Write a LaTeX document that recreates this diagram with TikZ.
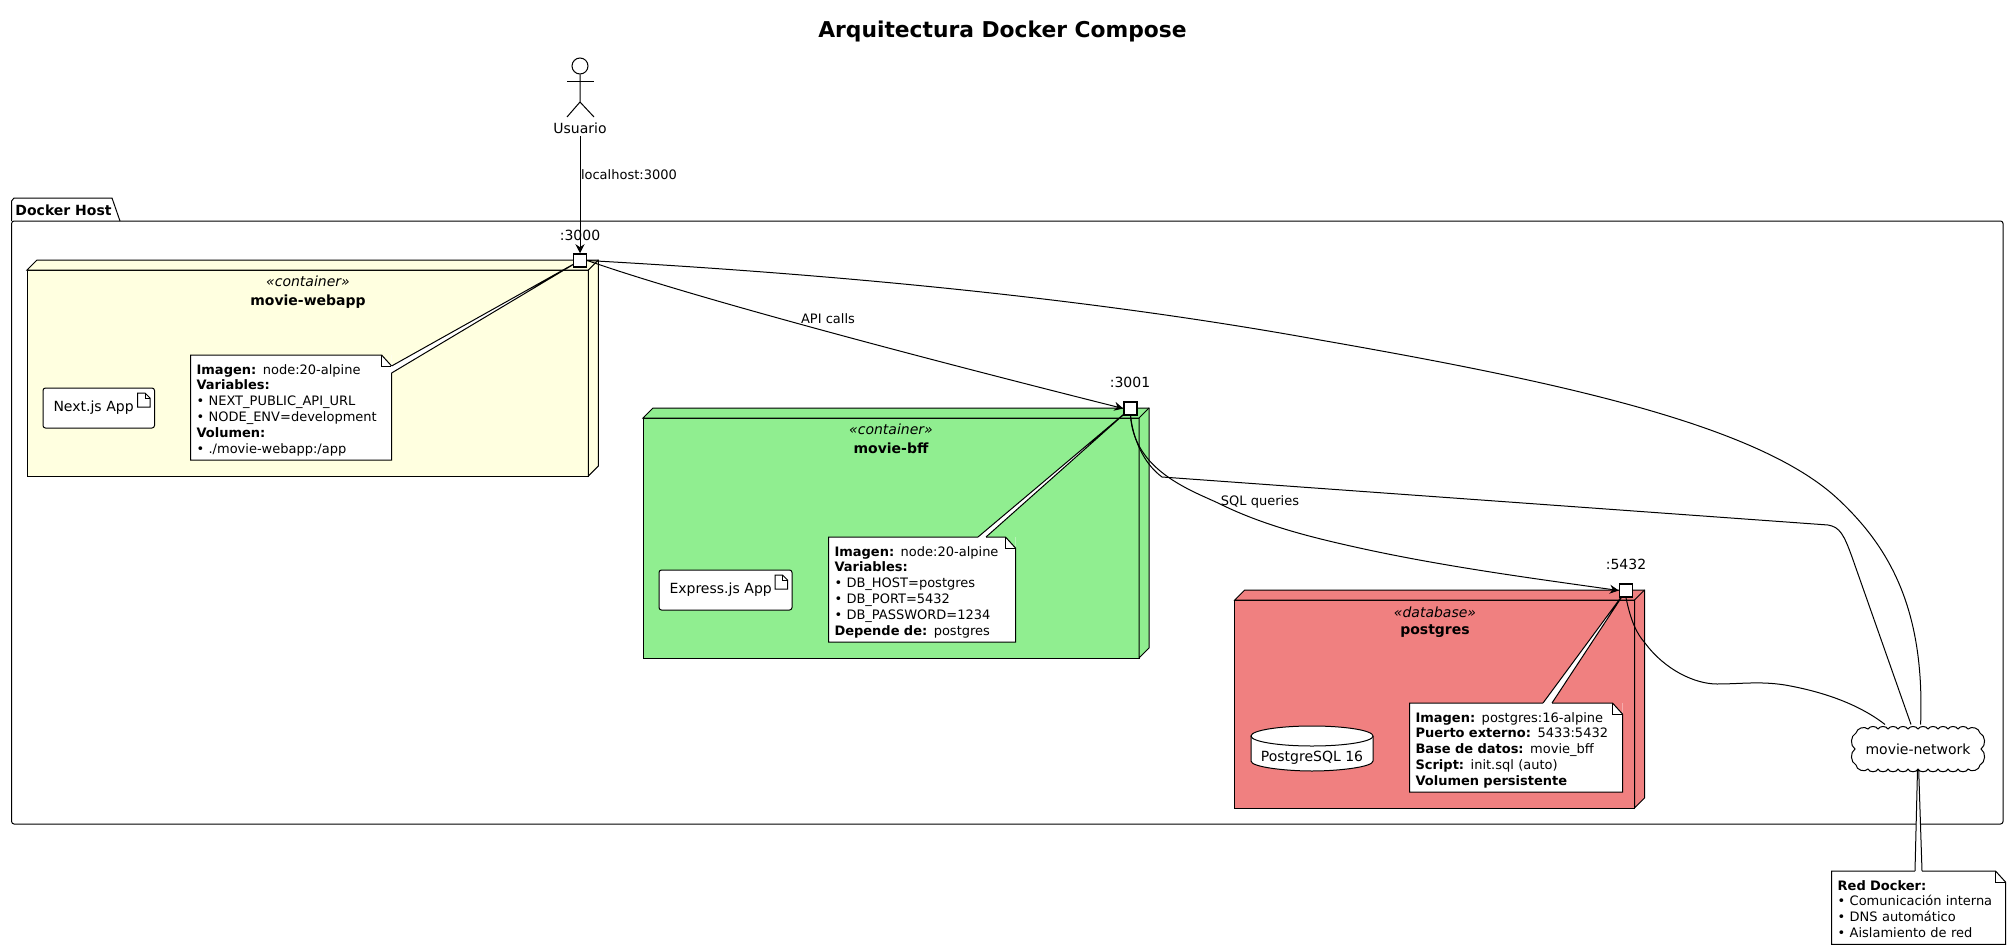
\documentclass[tikz,border=0pt]{standalone}
\usepackage{fontspec}
\setmainfont{DejaVu Sans}
\usetikzlibrary{positioning,calc,arrows.meta}

\definecolor{webappfill}{HTML}{FFFFE0}
\definecolor{bfffill}{HTML}{90EE90}
\definecolor{dbfill}{HTML}{F08080}

\newcommand{\nodedepth}[2]{
  \draw[fill=#2] (#1.north west) -- ++(10,-10) -- ($(#1.north east)+(10,-10)$) -- ($(#1.south east)+(10,-10)$) -- (#1.south east) -- (#1.north east) -- cycle;
  \draw (#1.north east) -- ++(10,-10);
}
\newcommand{\notefold}[2]{
  \fill[#2] ($(#1.north east)+(-10,0)$) -- (#1.north east) -- ($(#1.north east)+(0,11)$) -- cycle;
  \draw (#1.north west) -- ($(#1.north east)+(-10,0)$) -- ($(#1.north east)+(0,11)$) -- (#1.south east) -- (#1.south west) -- cycle;
  \draw ($(#1.north east)+(-10,0)$) -- ++(0,11) -- ++(10,0);
}
\newcommand{\notewedge}[3]{
  \fill[white] (#1) -- (#3) -- (#2) -- cycle;
  \draw[white, line width=1.4pt] (#1) -- (#2);
  \draw (#1) -- (#3) -- (#2);
}
\newcommand{\artifacticon}[1]{
  \draw[fill=white] ($(#1.north east)+(-17,5)$) -- ++(7.5,0) -- ++(5,5) -- ++(0,9) -- ++(-12.5,0) -- cycle;
  \draw ($(#1.north east)+(-9.5,5)$) -- ++(0,5) -- ++(5,0);
}
\newcommand{\notetop}{\rule{0pt}{19pt}}
\newcommand{\notebot}{\rule[-7pt]{0pt}{7pt}}

\begin{document}
\begin{tikzpicture}[x=1pt, y=-1pt, line width=1pt, >={Stealth[length=9pt,width=9pt,inset=3pt]}]
  \tikzstyle{title} = [font=\fontsize{21.8}{26}\selectfont\bfseries]
  \tikzstyle{plain} = [font=\fontsize{14}{16}\selectfont, inner sep=0]
  \tikzstyle{edgetext} = [font=\fontsize{13}{16}\selectfont, inner sep=0]
  \tikzstyle{stereo} = [font=\fontsize{14}{16}\selectfont\itshape, inner sep=0, anchor=base]
  \tikzstyle{boldname} = [font=\fontsize{14}{16}\selectfont\bfseries, inner sep=0, anchor=base]
  \tikzstyle{container} = [rectangle, draw, anchor=north west, inner sep=0, outer sep=0]
  \tikzstyle{artifact} = [rectangle, draw, fill=white, rounded corners=2.5pt, anchor=north west, inner xsep=10.5pt, inner ysep=0, outer sep=0, minimum height=40pt, align=left, font=\fontsize{14}{16}\selectfont]
  \tikzstyle{notebox} = [rectangle, fill=white, anchor=north west, inner xsep=6pt, inner ysep=0, outer sep=0, align=left, font=\fontsize{13}{15.8}\selectfont]
  \tikzstyle{portbox} = [rectangle, draw, fill=white, line width=1.5pt, minimum size=13pt, inner sep=0]

  \useasboundingbox (0,0) rectangle (2011,950);

  \node[title] (diagramtitle) at (1002.5,31) {Arquitectura Docker Compose};

  \draw (11.6,221) -- (11.6,201) -- (14,198) -- (112,198) -- (120,221);
  \draw[rounded corners=2.5pt] (11.6,221) rectangle (2003,824);
  \node[boldname, anchor=base west] (hostname) at (15,215) {Docker Host};

  \coordinate (port3000c) at (580,260.5);
  \coordinate (port3001c) at (1130.5,408.5);
  \coordinate (port5432c) at (1626,590.5);
  \coordinate (networkc) at (1918,749);

  \node[container, fill=webappfill, minimum width=561.4pt, minimum height=206pt] (webapp) at (27,270) {};
  \nodedepth{webapp}{webappfill}
  \node[stereo] (webapptag) at (308,286.5) {«container»};
  \node[boldname] (webappname) at (308,305) {movie-webapp};
  \node[artifact, text width=90.5pt] (nextapp) at (43,388) {Next.js App};
  \artifacticon{nextapp}
  \node[notebox, text width=189pt, minimum height=105pt] (webappnote) at (190.6,355) {\notetop\textbf{Imagen:} node:20-alpine\\\textbf{Variables:}\\• NEXT\_PUBLIC\_API\_URL\\• NODE\_ENV=development\\\textbf{Volumen:}\\• ./movie-webapp:/app\notebot};
  \notefold{webappnote}{webappfill}
  \coordinate (webappa) at ($(webappnote.north east)+(0,11)$);
  \coordinate (webappb) at ($(webappnote.north east)+(0,18)$);
  \notewedge{webappa}{webappb}{port3000c}

  \node[container, fill=bfffill, minimum width=496pt, minimum height=240pt] (bff) at (643,418) {};
  \nodedepth{bff}{bfffill}
  \node[stereo] (bfftag) at (891,434.5) {«container»};
  \node[boldname] (bffname) at (891,453) {movie-bff};
  \node[artifact, text width=112pt] (expressapp) at (659,570) {Express.js App};
  \artifacticon{expressapp}
  \node[notebox, text width=175pt, minimum height=105pt] (bffnote) at (828.5,537) {\notetop\textbf{Imagen:} node:20-alpine\\\textbf{Variables:}\\• DB\_HOST=postgres\\• DB\_PORT=5432\\• DB\_PASSWORD=1234\\\textbf{Depende de:} postgres\notebot};
  \notefold{bffnote}{bfffill}
  \coordinate (bffa) at ($(bffnote.north west)+(149.5,0)$);
  \coordinate (bffb) at ($(bffnote.north west)+(157.5,0)$);
  \notewedge{bffa}{bffb}{port3001c}

  \node[container, fill=dbfill, minimum width=399.8pt, minimum height=208pt] (postgres) at (1234.7,600) {};
  \nodedepth{postgres}{dbfill}
  \node[stereo] (postgrestag) at (1435,617) {«database»};
  \node[boldname] (postgresname) at (1435,634.5) {postgres};
  \draw[fill=white] (1251,736) -- (1251,761) .. controls (1251,767) and (1285,771) .. (1312,771) .. controls (1339,771) and (1373,767) .. (1373,761) -- (1373,736);
  \draw[fill=white] (1312,736) ellipse [x radius=61, y radius=10];
  \node[plain] (pgengine) at (1312,758) {PostgreSQL 16};
  \node[notebox, text width=201pt, minimum height=89pt] (postgresnote) at (1409.5,703) {\notetop\textbf{Imagen:} postgres:16-alpine\\\textbf{Puerto externo:} 5433:5432\\\textbf{Base de datos:} movie\_bff\\\textbf{Script:} init.sql (auto)\\\textbf{Volumen persistente}\notebot};
  \notefold{postgresnote}{dbfill}
  \coordinate (postgresa) at ($(postgresnote.north west)+(133.5,0)$);
  \coordinate (postgresb) at ($(postgresnote.north west)+(142.5,0)$);
  \notewedge{postgresa}{postgresb}{port5432c}

  \node[notebox, text width=161.8pt, minimum height=73pt] (networknote) at (1831.7,871) {\notetop\textbf{Red Docker:}\\• Comunicación interna\\• DNS automático\\• Aislamiento de red\notebot};
  \notefold{networknote}{white}
  \coordinate (networka) at ($(networknote.north west)+(83.3,0)$);
  \coordinate (networkb) at ($(networknote.north west)+(90.3,0)$);
  \notewedge{networka}{networkb}{networkc}

  \begin{scope}[shift={(networkc)}]
    \draw[fill=white] (-62,-16)
      \foreach \cx in {-50,-40,...,50} { to[bend left=60] (\cx,-20) }
      to[bend left=60] (62,-16) to[bend left=60] (63,0) to[bend left=60] (62,16)
      \foreach \cx in {50,40,...,-50} { to[bend left=70] (\cx,20) }
      to[bend left=70] (-62,16) to[bend left=60] (-63,0) to[bend left=60] (-62,-16);
  \end{scope}
  \node[rectangle, minimum width=138pt, minimum height=48pt, inner sep=0, font=\fontsize{14}{16}\selectfont] (network) at (networkc) {movie-network};

  \node[portbox] (port3000) at (port3000c) {};
  \node[portbox] (port3001) at (port3001c) {};
  \node[portbox] (port5432) at (port5432c) {};
  \node[plain] (label3000) at (580,235) {:3000};
  \node[plain] (label3001) at (1130,382) {:3001};
  \node[plain] (label5432) at (1626,564) {:5432};

  \node[circle, draw, minimum size=16pt, inner sep=0] (actorhead) at (580,66) {};
  \draw (actorhead.south) -- (580,102) -- (567,117);
  \draw (580,102) -- (594,117);
  \draw (567,82) -- (594,82);
  \node[plain] (usuario) at (580,128) {Usuario};

  \draw[->] (usuario.south) ++(0,2) -- (port3000.north);
  \node[edgetext, anchor=west] (localhostlabel) at (580.5,175) {localhost:3000};

  \draw[->] (port3000.east) .. controls (700,300) and (950,365) .. (port3001.west);
  \node[edgetext] (apilabel) at (828,319) {API calls};

  \draw[->] (port3001.south) .. controls (1134,470) and (1190,490) .. (1218,503) .. controls (1262,525) and (1310,537) .. (1355,547) .. controls (1440,566) and (1530,578) .. (port5432.west);
  \node[edgetext] (sqllabel) at (1260,501.5) {SQL queries};

  \draw (port3000.east) .. controls (850,275) and (1100,300) .. (1320,340) .. controls (1560,382) and (1760,425) .. (1839,500) .. controls (1890,548) and (1925,610) .. ([xshift=2.6pt]network.north);
  \draw (port3001.south) .. controls (1134,445) and (1147,466) .. (1162,477) -- (1828,525) .. controls (1840,527) and (1844,535) .. (1852,557) -- ([xshift=-7pt]network.north);
  \draw (port5432.south) .. controls (1631,622) and (1637,634) .. (1645,643) .. controls (1665,670) and (1695,684) .. (1717,684) .. controls (1740,684) and (1760,681) .. (1785,685) .. controls (1825,692) and (1860,705) .. ([xshift=-33pt]network.north);
\end{tikzpicture}
\end{document}
